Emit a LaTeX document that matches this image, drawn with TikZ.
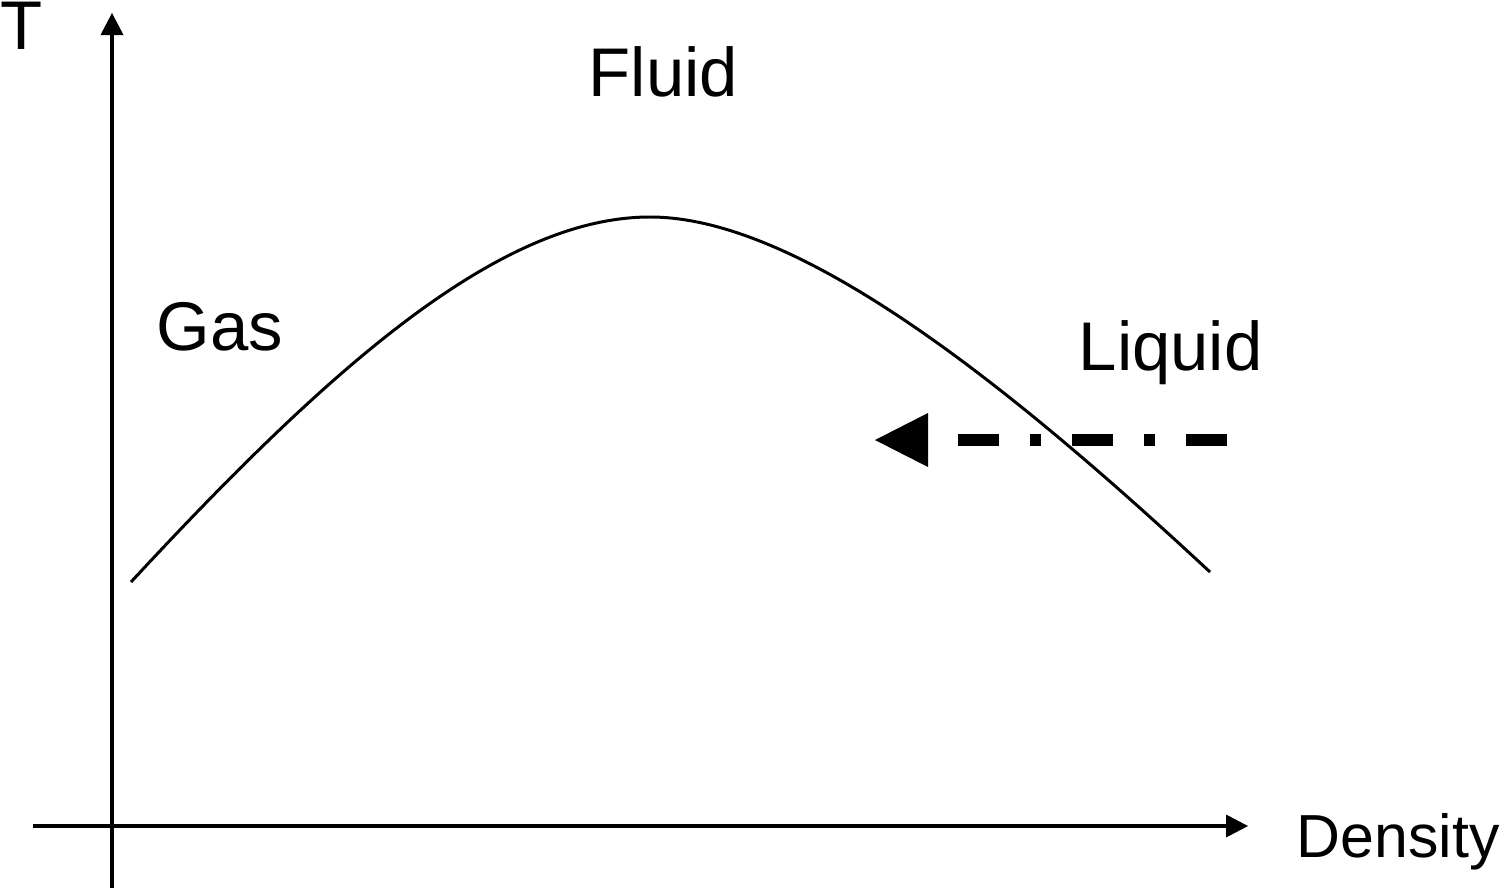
\documentclass[tikz,border=0pt]{standalone}
\usepackage{fontspec}
\setmainfont{Liberation Sans}
\usetikzlibrary{arrows.meta}

\tikzset{
    axis/.style={line width=1.05pt, -{Triangle[length=2.2mm, width=2.3mm, line width=0pt]}},
    phase/.style={anchor=base west, inner sep=0pt, font=\fontsize{19.6}{23}\selectfont},
    path/.style={line width=3.6pt, dash pattern=on 4.1mm off 3.1mm on 1.1mm off 3.1mm,
        -{Triangle[length=5.3mm, width=5.4mm, line width=0pt]}}
}

\begin{document}
\begin{tikzpicture}
        \useasboundingbox (0,0) rectangle (15.01,8.91);
        % axes
        \coordinate (ybot) at (1.12,0.03);
        \coordinate (ytop) at (1.12,8.78);
        \coordinate (xleft) at (0.33,0.65);
        \coordinate (xright) at (12.48,0.65);
        \draw[axis] (ybot) -- (ytop);
        \draw[axis] (xleft) -- (xright);
        \node[phase] (tlabel) at (0.00,8.42) {T};
        \node[phase, font=\fontsize{17.3}{20}\selectfont] (dlabel) at (12.96,0.34) {Density};
        % coexistence curve
        \coordinate (cleft) at (1.31,3.09);
        \coordinate (ctop) at (6.50,6.74);
        \coordinate (cright) at (12.10,3.19);
        \draw[line width=0.85pt] (cleft) .. controls (3.31,5.25) and (5.00,6.74) .. (ctop)
            .. controls (8.00,6.74) and (10.10,5.05) .. (cright);
        \node[phase] (gas) at (1.56,5.41) {Gas};
        \node[phase] (fluid) at (5.88,7.94) {Fluid};
        \node[phase] (liquid) at (10.78,5.21) {Liquid};
        % path through the curve
        \coordinate (dstart) at (12.27,4.51);
        \coordinate (dend) at (8.75,4.51);
        \draw[path] (dstart) -- (dend);
    \end{tikzpicture}
\end{document}
